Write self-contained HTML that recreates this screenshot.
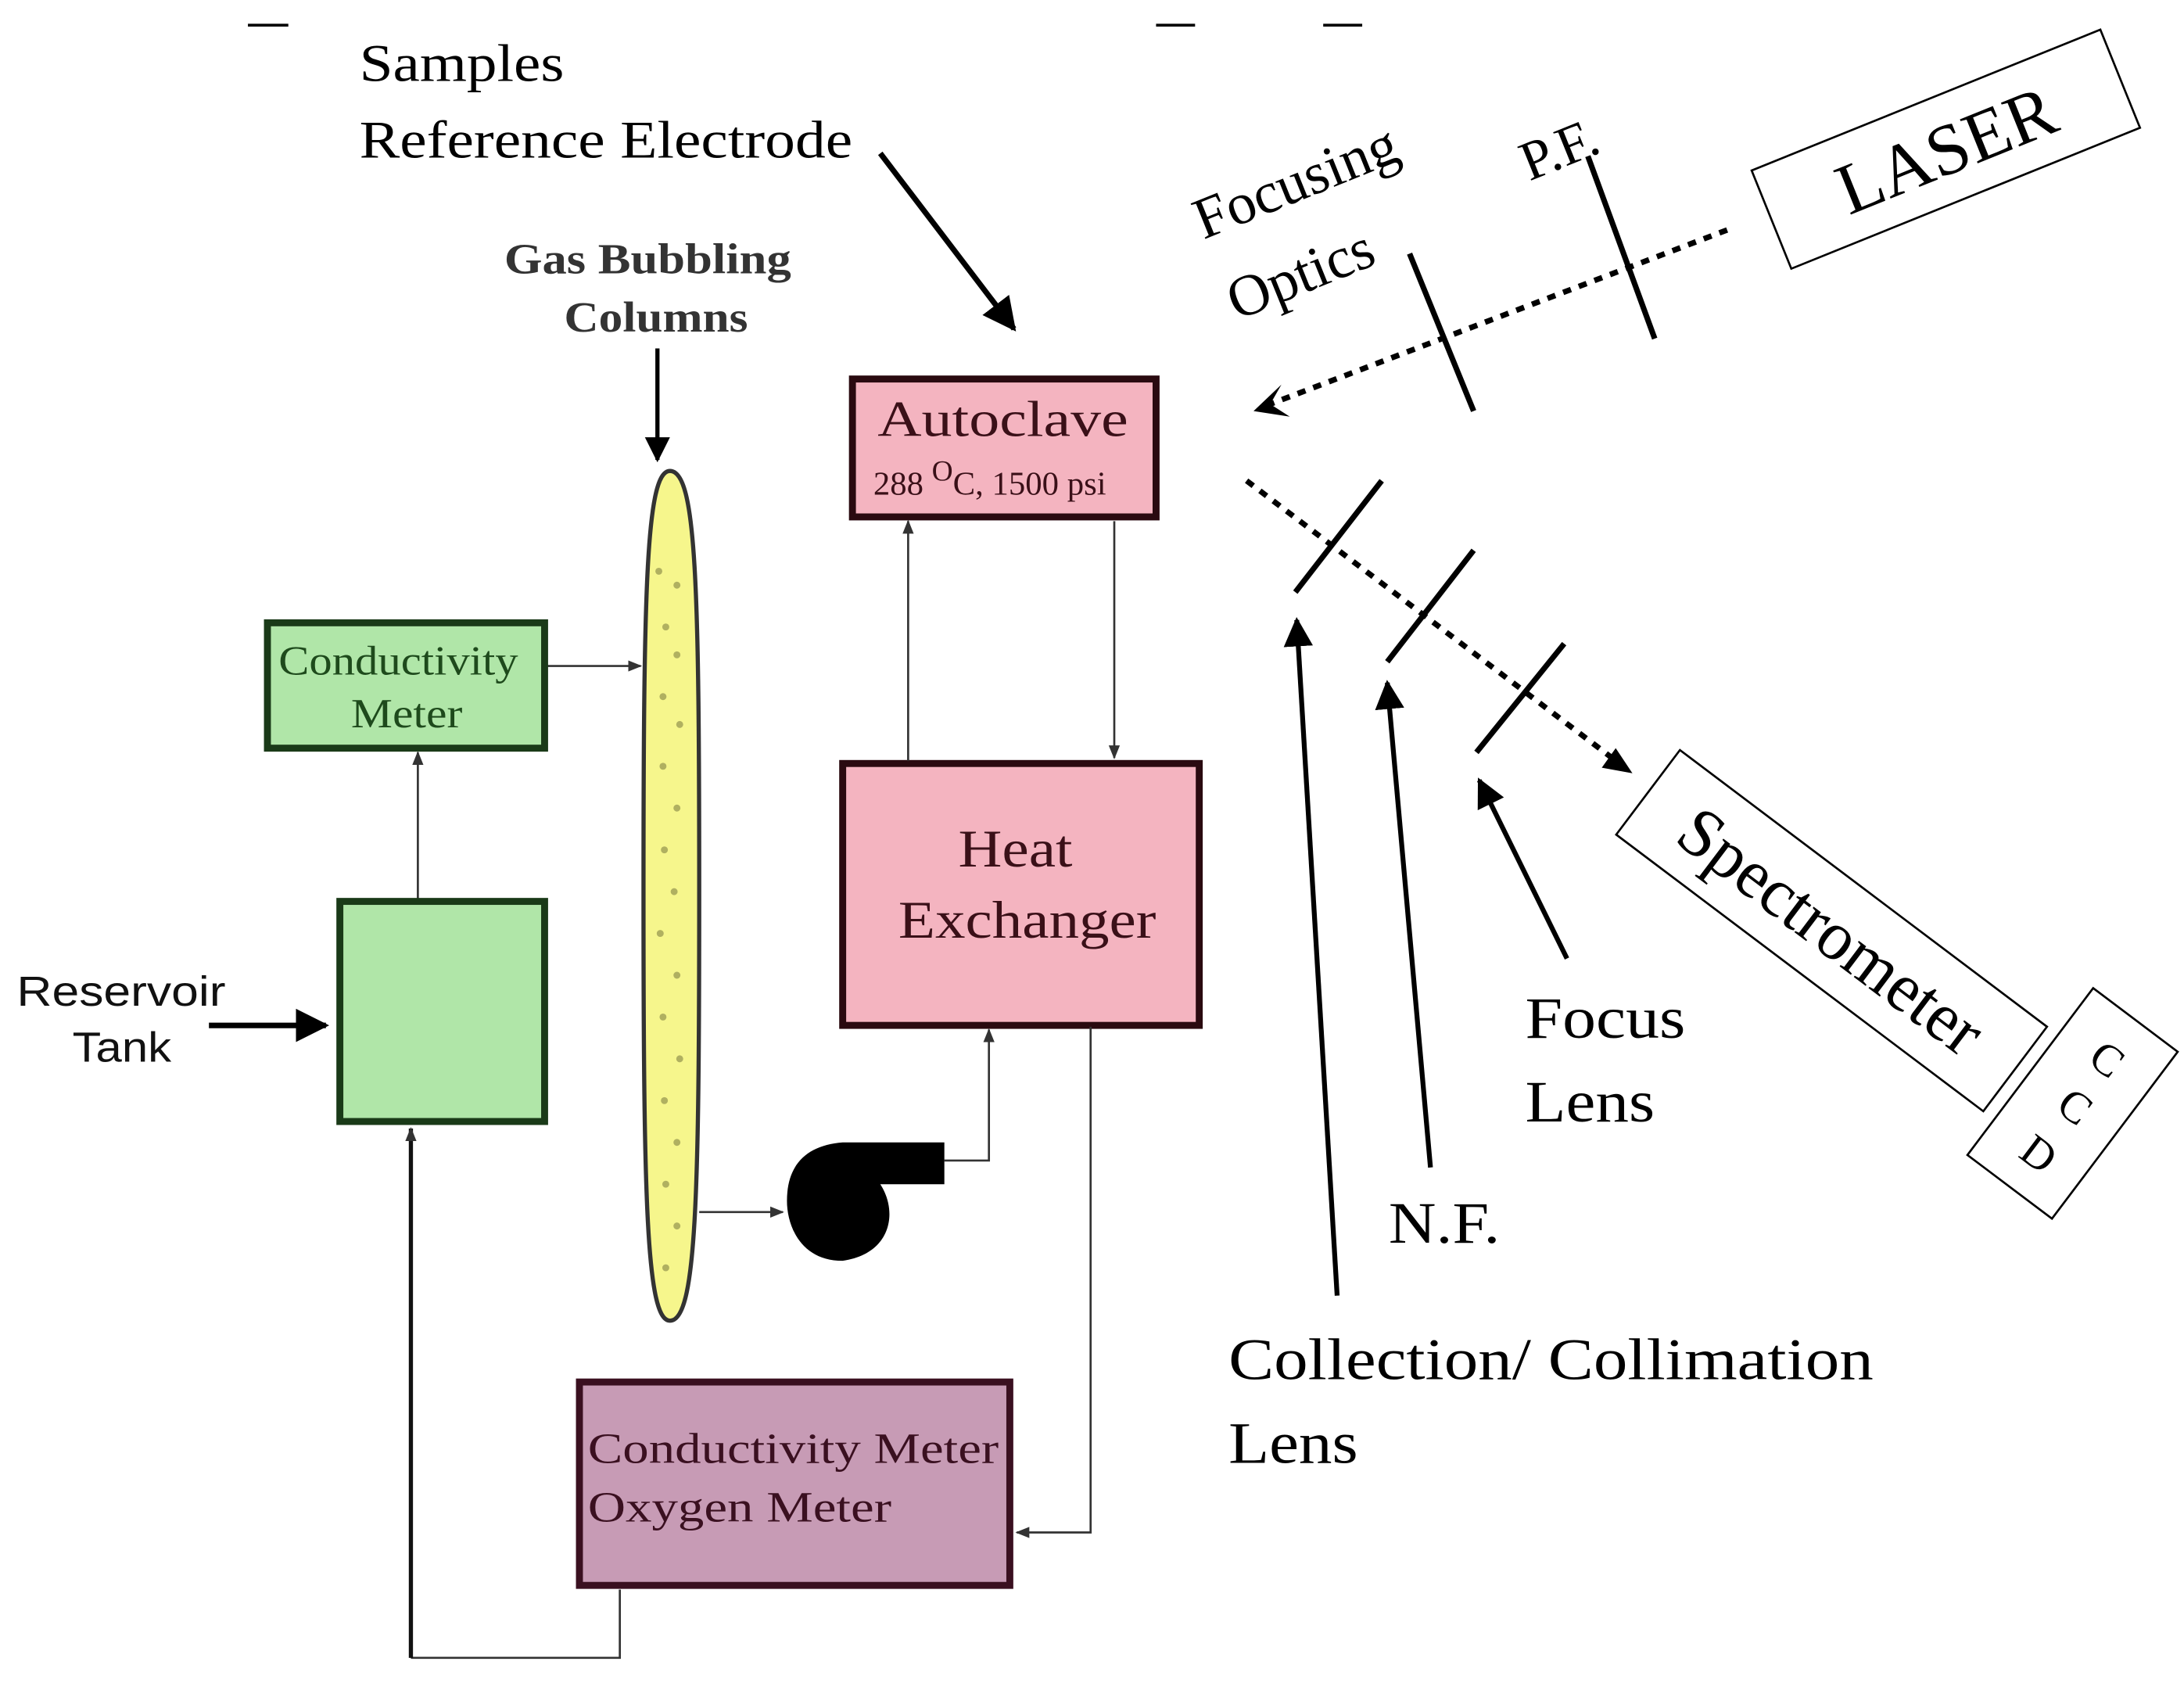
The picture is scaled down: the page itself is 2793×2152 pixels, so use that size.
<!DOCTYPE html>
<html><head><style>html,body{margin:0;padding:0;background:#fff}svg{display:block}</style></head>
<body>
<svg width="2793" height="2152" viewBox="0 0 1568 1208" xmlns="http://www.w3.org/2000/svg">
<defs>
<marker id="a" viewBox="0 0 10 10" refX="9" refY="5" markerWidth="6" markerHeight="6" orient="auto-start-reverse"><path d="M0,0L10,5L0,10z" fill="#000"/></marker>
<marker id="s" viewBox="0 0 10 10" refX="9" refY="5" markerWidth="10" markerHeight="10" markerUnits="userSpaceOnUse" orient="auto"><path d="M0,1L10,5L0,9z" fill="#333"/></marker>
</defs>
<g stroke="#000" stroke-width="2"><line x1="178" y1="18" x2="207" y2="18"/><line x1="830" y1="18" x2="858" y2="18"/><line x1="950" y1="18" x2="978" y2="18"/></g>
<g font-family="Liberation Serif, serif" fill="#000">
<text x="258" y="58" font-size="38" textLength="147" lengthAdjust="spacingAndGlyphs">Samples</text>
<text x="258" y="113" font-size="38" textLength="354" lengthAdjust="spacingAndGlyphs">Reference Electrode</text>
</g>
<line x1="632" y1="110" x2="728" y2="236" stroke="#000" stroke-width="4" marker-end="url(#a)"/>
<g font-family="Liberation Serif, serif" fill="#333" font-size="31" font-weight="bold">
<text x="362" y="196" textLength="206" lengthAdjust="spacingAndGlyphs">Gas Bubbling</text><text x="405" y="238" textLength="132" lengthAdjust="spacingAndGlyphs">Columns</text></g>
<line x1="472" y1="250" x2="472" y2="330" stroke="#000" stroke-width="3" marker-end="url(#a)"/>
<path d="M481,338 C500,338 502,420 502,640 C502,860 500,948 481,948 C464,948 462,860 462,640 C462,420 464,338 481,338Z" fill="#f6f68c" stroke="#333" stroke-width="3"/>
<g fill="#b0b060">
<circle cx="473" cy="410" r="2.5"/><circle cx="486" cy="420" r="2.5"/><circle cx="478" cy="450" r="2.5"/><circle cx="486" cy="470" r="2.5"/><circle cx="476" cy="500" r="2.5"/><circle cx="488" cy="520" r="2.5"/><circle cx="476" cy="550" r="2.5"/><circle cx="486" cy="580" r="2.5"/><circle cx="477" cy="610" r="2.5"/><circle cx="484" cy="640" r="2.5"/><circle cx="474" cy="670" r="2.5"/><circle cx="486" cy="700" r="2.5"/><circle cx="476" cy="730" r="2.5"/><circle cx="488" cy="760" r="2.5"/><circle cx="477" cy="790" r="2.5"/><circle cx="486" cy="820" r="2.5"/><circle cx="478" cy="850" r="2.5"/><circle cx="486" cy="880" r="2.5"/><circle cx="478" cy="910" r="2.5"/></g>
<rect x="612" y="272" width="218" height="99" fill="#f4b4c0" stroke="#2a0a10" stroke-width="5"/>
<text x="630" y="313" font-family="Liberation Serif, serif" font-size="36" fill="#3a1018" textLength="180" lengthAdjust="spacingAndGlyphs">Autoclave</text>
<text x="627" y="355" font-family="Liberation Serif, serif" font-size="24" fill="#3a1018">288 <tspan dy="-10" font-size="21">O</tspan><tspan dy="10">C, 1500 psi</tspan></text>
<rect x="605" y="548" width="256" height="188" fill="#f4b4c0" stroke="#2a0a10" stroke-width="5"/>
<text x="688" y="622" font-family="Liberation Serif, serif" font-size="38" fill="#3a1018" textLength="82" lengthAdjust="spacingAndGlyphs">Heat</text>
<text x="645" y="673" font-family="Liberation Serif, serif" font-size="38" fill="#3a1018" textLength="185" lengthAdjust="spacingAndGlyphs">Exchanger</text>
<g stroke="#333" stroke-width="1.5" fill="none">
<line x1="652" y1="546" x2="652" y2="374" marker-end="url(#s)"/>
<line x1="800" y1="374" x2="800" y2="544" marker-end="url(#s)"/>
<line x1="393" y1="478" x2="460" y2="478" marker-end="url(#s)"/>
<line x1="300" y1="645" x2="300" y2="540" marker-end="url(#s)"/>
<line x1="502" y1="870" x2="562" y2="870" marker-end="url(#s)"/>
<polyline points="678,833 710,833 710,739" marker-end="url(#s)"/>
<polyline points="783,737 783,1100 730,1100" marker-end="url(#s)"/>
<polyline points="445,1141 445,1190 295,1190"/>
</g>
<line x1="295" y1="1190" x2="295" y2="810" stroke="#111" stroke-width="3" marker-end="url(#s)"/>
<rect x="192" y="447" width="199" height="90" fill="#b0e6a8" stroke="#1a3a18" stroke-width="5"/>
<text x="200" y="484" font-family="Liberation Serif, serif" font-size="30" fill="#1e4a1c" textLength="172" lengthAdjust="spacingAndGlyphs">Conductivity</text>
<text x="252" y="522" font-family="Liberation Serif, serif" font-size="30" fill="#1e4a1c" textLength="80" lengthAdjust="spacingAndGlyphs">Meter</text>
<rect x="244" y="647" width="147" height="158" fill="#b0e6a8" stroke="#1a3a18" stroke-width="5"/>
<text x="12" y="722" font-family="Liberation Sans, sans-serif" font-size="30" fill="#111" textLength="150" lengthAdjust="spacingAndGlyphs">Reservoir</text>
<text x="52" y="762" font-family="Liberation Sans, sans-serif" font-size="30" fill="#111" textLength="71" lengthAdjust="spacingAndGlyphs">Tank</text>
<line x1="150" y1="736" x2="234" y2="736" stroke="#000" stroke-width="4" marker-end="url(#a)"/>
<path d="M605,820 L678,820 L678,850 L632,850 C645,870 640,900 605,905 C575,905 565,880 565,862 C565,835 580,822 605,820Z" fill="#000"/>
<rect x="416" y="992" width="309" height="146" fill="#c79bb5" stroke="#3a1020" stroke-width="5"/>
<text x="422" y="1050" font-family="Liberation Serif, serif" font-size="31" fill="#3a1020" textLength="295" lengthAdjust="spacingAndGlyphs">Conductivity Meter</text>
<text x="422" y="1092" font-family="Liberation Serif, serif" font-size="31" fill="#3a1020" textLength="218" lengthAdjust="spacingAndGlyphs">Oxygen Meter</text>
<!-- right side -->
<g transform="translate(1397,107) rotate(-22)">
<rect x="-135" y="-38" width="270" height="76" fill="#fff" stroke="#000" stroke-width="1.5"/>
<text x="0" y="18" font-family="Liberation Serif, serif" font-size="52" text-anchor="middle">LASER</text></g>
<g font-family="Liberation Serif, serif" font-size="42" fill="#000">
<text transform="translate(864,172) rotate(-22)">Focusing</text>
<text transform="translate(888,230) rotate(-22)">Optics</text>
<text transform="translate(1098,130) rotate(-22)" font-size="40">P.F.</text>
<text x="1095" y="745" textLength="115" lengthAdjust="spacingAndGlyphs">Focus</text>
<text x="1095" y="805" textLength="93" lengthAdjust="spacingAndGlyphs">Lens</text>
<text x="997" y="892" textLength="80" lengthAdjust="spacingAndGlyphs">N.F.</text>
<text x="882" y="990" textLength="463" lengthAdjust="spacingAndGlyphs">Collection/ Collimation</text>
<text x="882" y="1050" textLength="93" lengthAdjust="spacingAndGlyphs">Lens</text>
</g>
<g stroke="#000" stroke-width="4">
<line x1="1240" y1="165" x2="912" y2="290" stroke-dasharray="6,6"/>
<line x1="895" y1="345" x2="1160" y2="546" stroke-dasharray="6,6"/>
<line x1="1140" y1="112" x2="1188" y2="243"/>
<line x1="1012" y1="182" x2="1058" y2="295"/>
<line x1="992" y1="345" x2="930" y2="425"/>
<line x1="1058" y1="395" x2="996" y2="475"/>
<line x1="1123" y1="462" x2="1060" y2="540"/>
<line x1="960" y1="930" x2="931" y2="445" stroke-width="3.5" marker-end="url(#a)"/>
<line x1="1027" y1="838" x2="996" y2="490" stroke-width="3.5" marker-end="url(#a)"/>
<line x1="1125" y1="688" x2="1062" y2="560" stroke-width="3.5" marker-end="url(#a)"/>
</g>
<path d="M912,290 l8,-14 l-20,19 l26,4z" fill="#000"/>
<path d="M1172,555 l-22,-4 l10,-14z" fill="#000"/>
<g transform="translate(1315,668) rotate(37)">
<rect x="-165" y="-38" width="330" height="76" fill="#fff" stroke="#000" stroke-width="1.5"/>
<text x="0" y="17" font-family="Liberation Serif, serif" font-size="50" text-anchor="middle" textLength="260" lengthAdjust="spacingAndGlyphs">Spectrometer</text></g>
<g transform="translate(1488,792) rotate(37)">
<rect x="-38" y="-75" width="76" height="150" fill="#fff" stroke="#000" stroke-width="1.5"/>
</g>
<g font-family="Liberation Serif, serif" font-size="32" text-anchor="middle">
<text transform="translate(1513,760) rotate(37)" dy="11">C</text>
<text transform="translate(1490,794) rotate(37)" dy="11">C</text>
<text transform="translate(1464,828) rotate(37)" dy="11">D</text>
</g>
</svg>
</body></html>
